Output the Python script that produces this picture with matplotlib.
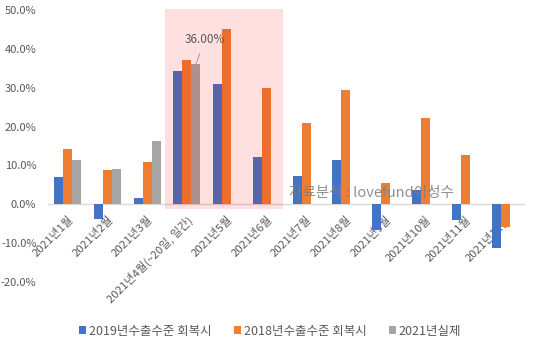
import numpy as np
import matplotlib
matplotlib.use('Agg')
import matplotlib.pyplot as plt
from matplotlib.patches import Rectangle, Patch

plt.rcParams['font.family'] = ['Noto Sans CJK KR', 'DejaVu Sans']

# 월별 데이터 (단위: %)
months = ["2021년1월", "2021년2월", "2021년3월", "2021년4월(~20일, 일간)", "2021년5월", "2021년6월",
          "2021년7월", "2021년8월", "2021년9월", "2021년10월", "2021년11월", "2021년12월"]
rec_2019 = [6.9, -3.8, 1.5, 34.4, 31.0, 12.1, 7.4, 11.3, -6.6, 3.8, -4.0, -11.2]
rec_2018 = [14.1, 8.7, 11.0, 37.2, 45.1, 30.0, 21.0, 29.5, 5.6, 22.3, 12.6, -5.8]
actual_2021 = [11.3, 9.2, 16.4, 36.0, np.nan, np.nan, np.nan, np.nan, np.nan, np.nan, np.nan, np.nan]

series_names = ["2019년수출수준 회복시", "2018년수출수준 회복시", "2021년실제"]
colors = ["#4472C4", "#ED7D31", "#A5A5A5"]
TEXT_C = "#595959"

fig = plt.figure(figsize=(5.35, 3.43), dpi=100)
ax = fig.add_axes([47.6 / 535, 1 - 282 / 343, (525 - 47.6) / 535, 272 / 343])
ax.set_axisbelow(True)  # 막대가 x축 라벨 위에 그려지도록

x = np.arange(len(months))
w = 0.226
for i, (vals, c) in enumerate(zip([rec_2019, rec_2018, actual_2021], colors)):
    ax.bar(x + (i - 1) * w, np.array(vals) / 100, width=w, color=c, zorder=2)

ax.set_xlim(-0.5, len(months) - 0.5)
ax.set_ylim(-0.2, 0.5)
ax.axhline(0, color="#D9D9D9", lw=1, zorder=1)

ax.set_yticks(np.arange(-0.2, 0.51, 0.1))
ax.set_yticklabels([f"{v * 100:.1f}%" for v in np.arange(-0.2, 0.51, 0.1)], fontsize=8, color=TEXT_C)

# x축 라벨은 0% 선 바로 아래에 붙임
ax.spines["bottom"].set_position(("data", 0))
ax.set_xticks(x)
ax.set_xticklabels(months, rotation=45, ha="right", va="top", rotation_mode="anchor",
                   fontsize=8.2, color=TEXT_C)
ax.tick_params(length=0, axis="x", pad=7)
ax.tick_params(length=0, axis="y", pad=8)
for s in ax.spines.values():
    s.set_visible(False)

# 4~6월 강조 박스
ax.add_patch(Rectangle((2.45, -0.012), 2.97, 0.515, facecolor="red", alpha=0.12,
                       edgecolor="none", zorder=3, clip_on=False))

# 4월 실제값 라벨
ax.annotate(f"{actual_2021[3]:.2f}%", xy=(3 + w, actual_2021[3] / 100), xytext=(3.46, 0.425),
            ha="center", va="center", fontsize=8.5, color=TEXT_C,
            arrowprops=dict(arrowstyle="-", color="#A6A6A6", lw=0.8, shrinkA=4, shrinkB=0), zorder=4)

ax.text(7.63, 0.029, "자료분석 : lovefund이성수", ha="center", va="center", fontsize=10.5,
        color="#7F7F7F", alpha=0.85, zorder=5)

handles = [Patch(facecolor=c, edgecolor="none") for c in colors]
fig.legend(handles, series_names, loc="center", bbox_to_anchor=(0.505, 1 - 331 / 343), ncol=3,
           frameon=False, fontsize=9, handlelength=0.56, handleheight=0.56, handletextpad=0.2,
           columnspacing=1.8, labelcolor=TEXT_C)

fig.savefig("out.png", dpi=100)
